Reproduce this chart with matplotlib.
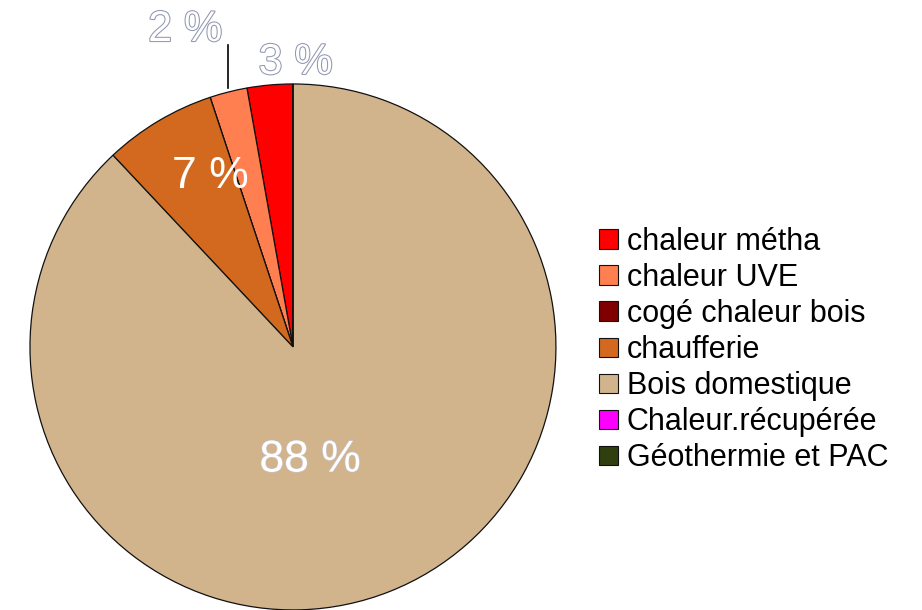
import numpy as np
import matplotlib.pyplot as plt
import matplotlib.patheffects as pe
from matplotlib.patches import Patch

plt.rcParams['font.family'] = ['Liberation Sans', 'DejaVu Sans']

categories = ['chaleur métha', 'chaleur UVE', 'cogé chaleur bois', 'chaufferie',
              'Bois domestique', 'Chaleur.récupérée', 'Géothermie et PAC']
values = [2.8, 2.3, 0.0, 6.9, 88.0, 0.0, 0.0]
colors = ['#ff0000', '#ff7f50', '#800000', '#d2691e', '#d2b48c', '#ff00ff', '#2f3f0f']

fig = plt.figure(figsize=(9.22, 6.10), dpi=100)
ax = fig.add_axes([0, 0, 1, 1])

ax.pie(values, colors=colors, startangle=90, counterclock=True,
       wedgeprops=dict(edgecolor='#111111', linewidth=0.9))
ax.set_xlim(-1.114, 2.392)
ax.set_ylim(-1.0, 1.319)
ax.set_aspect('equal')
ax.axis('off')

pct = [int(round(v)) for v in values]
outline = [pe.Stroke(linewidth=1.5, foreground='#9297b0'), pe.Normal()]

# outside labels for small slices
ax.text(0.01, 1.08, '{} %'.format(pct[0]), color='white', fontsize=31,
        ha='center', va='center', path_effects=outline)
ax.text(-0.41, 1.205, '{} %'.format(pct[1]), color='white', fontsize=31,
        ha='center', va='center', path_effects=outline)
ax.plot([-0.247, -0.247], [0.985, 1.148], color='black', lw=1.2)

# inside labels
ax.text(-0.315, 0.65, '{} %'.format(pct[3]), color='white', fontsize=32,
        ha='center', va='center')
ax.text(0.065, -0.43, '{} %'.format(pct[4]), color='white', fontsize=32,
        ha='center', va='center',
        path_effects=[pe.Stroke(linewidth=0.8, foreground='#c8c8d8'), pe.Normal()])

handles = [Patch(facecolor=c, edgecolor='#111111', linewidth=0.8) for c in colors]
fig.legend(handles, categories, loc='center left',
           bbox_to_anchor=(584 / 922, 1 - 350 / 610), frameon=False,
           fontsize=22, handlelength=0.6, handleheight=0.6,
           handletextpad=0.3, labelspacing=0.2, borderpad=0)

fig.savefig('out.png', dpi=100)
